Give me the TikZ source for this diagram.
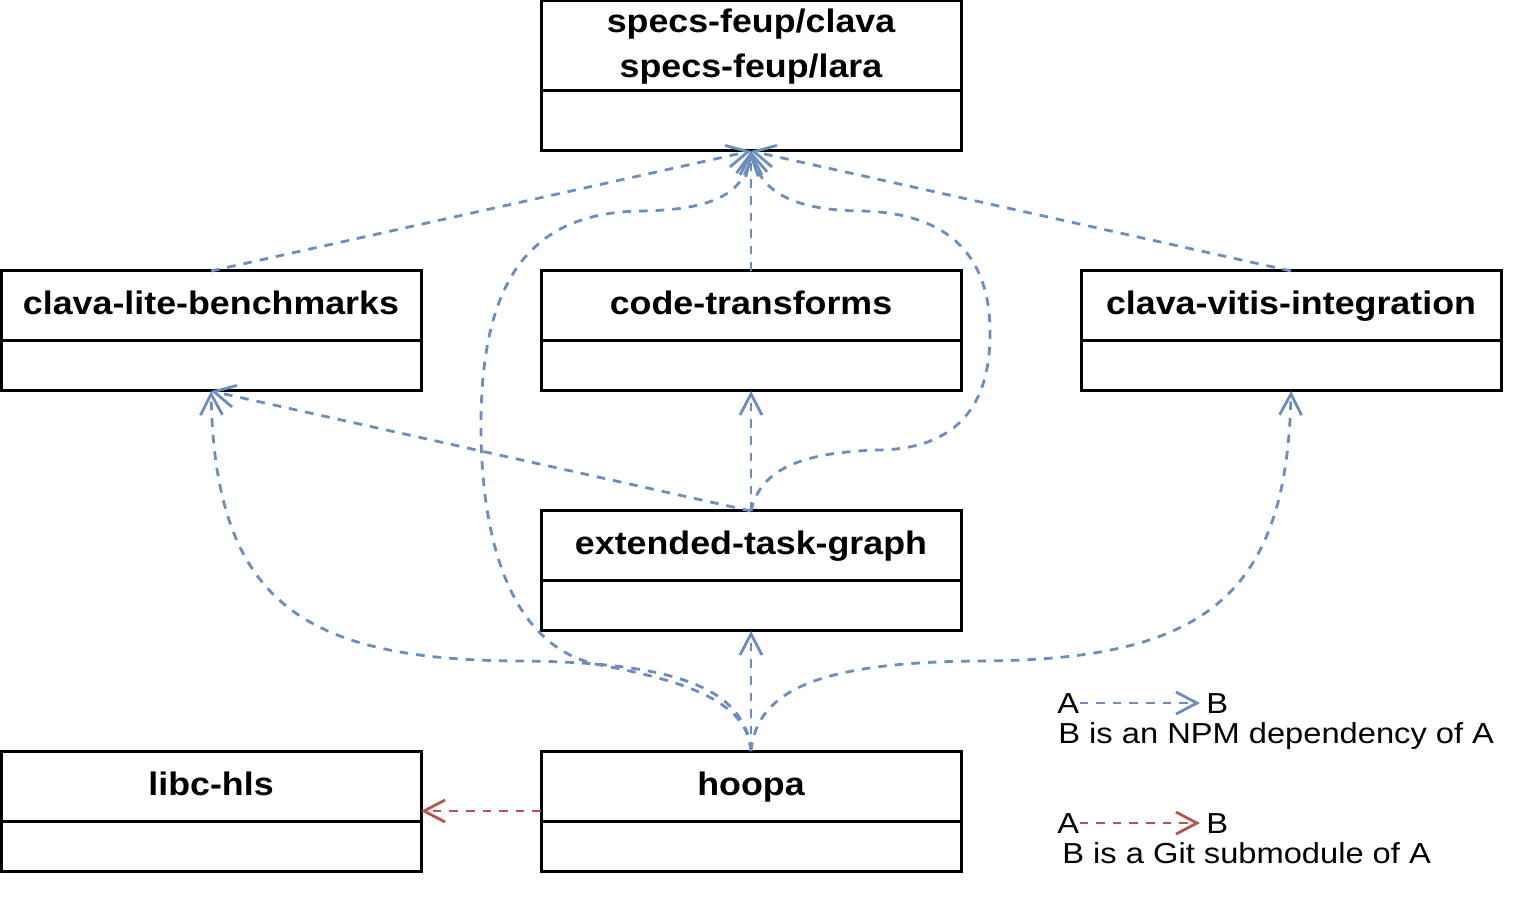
\documentclass[tikz,border=0pt]{standalone}
\usepackage{fontspec}
\newfontfamily\titlefont{Liberation Sans}[FakeStretch=1.10]
\newfontfamily\legfont{Liberation Sans}[FakeStretch=1.13]
\usetikzlibrary{arrows.meta}
\definecolor{depblue}{HTML}{6C8EBF}
\definecolor{subred}{HTML}{B85450}
\tikzset{
  umlbox/.style={draw=black, line width=1.5pt, minimum width=210pt, minimum height=60pt,
                 inner sep=0pt, outer sep=0pt},
  tallbox/.style={minimum height=75pt},
  divider/.style={draw=black, line width=1.5pt},
  title/.style={font=\titlefont\bfseries\fontsize{16.27}{20}\selectfont, inner sep=0pt, anchor=base},
  legtext/.style={font=\legfont\fontsize{14.45}{18}\selectfont, inner sep=0pt, anchor=base west},
  dep/.style={draw=depblue, line width=1.4pt, dash pattern=on 4.3pt off 4pt,
              -{Straight Barb[length=10.5pt,width=11pt]}},
  sub/.style={draw=subred, line width=1.4pt, dash pattern=on 4.3pt off 4pt,
              -{Straight Barb[length=10.5pt,width=11pt]}}
}
\begin{document}
\begin{tikzpicture}[x=0.5pt, y=-0.5pt]
\useasboundingbox (0,0) rectangle (1533,903);

% boxes
\node[umlbox, tallbox] (top) at (751,76) {};
\node[umlbox] (cl) at (211,331) {};
\node[umlbox] (ct) at (751,331) {};
\node[umlbox] (cv) at (1291,331) {};
\node[umlbox] (etg) at (751,571) {};
\node[umlbox] (libc) at (211,811) {};
\node[umlbox] (hoopa) at (751,811) {};

% dividers
\draw[divider] ([yshift=-45pt]top.north west) -- ([yshift=-45pt]top.north east);
\foreach \b in {cl,ct,cv,etg,libc,hoopa}{
  \draw[divider] ([yshift=-35pt]\b.north west) -- ([yshift=-35pt]\b.north east);
}

% titles
\node[title] (topT1) at (751,33) {specs-feup/clava};
\node[title] (topT2) at (751,78) {specs-feup/lara};
\node[title] (clT) at (211,315) {clava-lite-benchmarks};
\node[title] (ctT) at (751,315) {code-transforms};
\node[title] (cvT) at (1291,315) {clava-vitis-integration};
\node[title] (etgT) at (751,555) {extended-task-graph};
\node[title] (libcT) at (211,795) {libc-hls};
\node[title] (hoopaT) at (751,795) {hoopa};

% dependencies
\draw[dep] (cl.north) -- (top.south);
\draw[dep] (ct.north) -- (top.south);
\draw[dep] (cv.north) -- (top.south);
\draw[dep] (etg.north) -- (ct.south);
\draw[dep] (etg.north) -- (cl.south);
\draw[dep] (etg.north) .. controls (760,470) and (800,452) .. (880,450)
  .. controls (970,448) and (991,390) .. (990,330)
  .. controls (989,240) and (930,212) .. (860,211)
  .. controls (790,210) and (760,190) .. (top.south);
\draw[dep] (hoopa.north) -- (etg.south);
\draw[dep] (hoopa.north) .. controls (745,690) and (680,662) .. (520,661)
  .. controls (300,660) and (215,600) .. (cl.south);
\draw[dep] (hoopa.north) .. controls (748,700) and (680,680) .. (600,665)
  .. controls (520,650) and (482,560) .. (481,430)
  .. controls (480,280) and (530,213) .. (640,211)
  .. controls (720,210) and (745,190) .. (top.south);
\draw[dep] (hoopa.north) .. controls (757,690) and (820,662) .. (980,661)
  .. controls (1200,660) and (1287,600) .. (cv.south);
\draw[sub] (hoopa.west) -- (libc.east);

% legend
\node[legtext] (lA1) at (1057,713) {A};
\node[legtext] (lB1) at (1206,713) {B};
\node[legtext] (l1) at (1058,743) {B is an NPM dependency of A};
\node[legtext] (lA2) at (1057,833) {A};
\node[legtext] (lB2) at (1206,833) {B};
\node[legtext] (l2) at (1062,863) {B is a Git submodule of A};
\draw[dep, shorten >=3pt] (lA1.east) -- (lA1.east -| lB1.west);
\draw[sub, shorten >=3pt] (lA2.east) -- (lA2.east -| lB2.west);
\end{tikzpicture}
\end{document}
